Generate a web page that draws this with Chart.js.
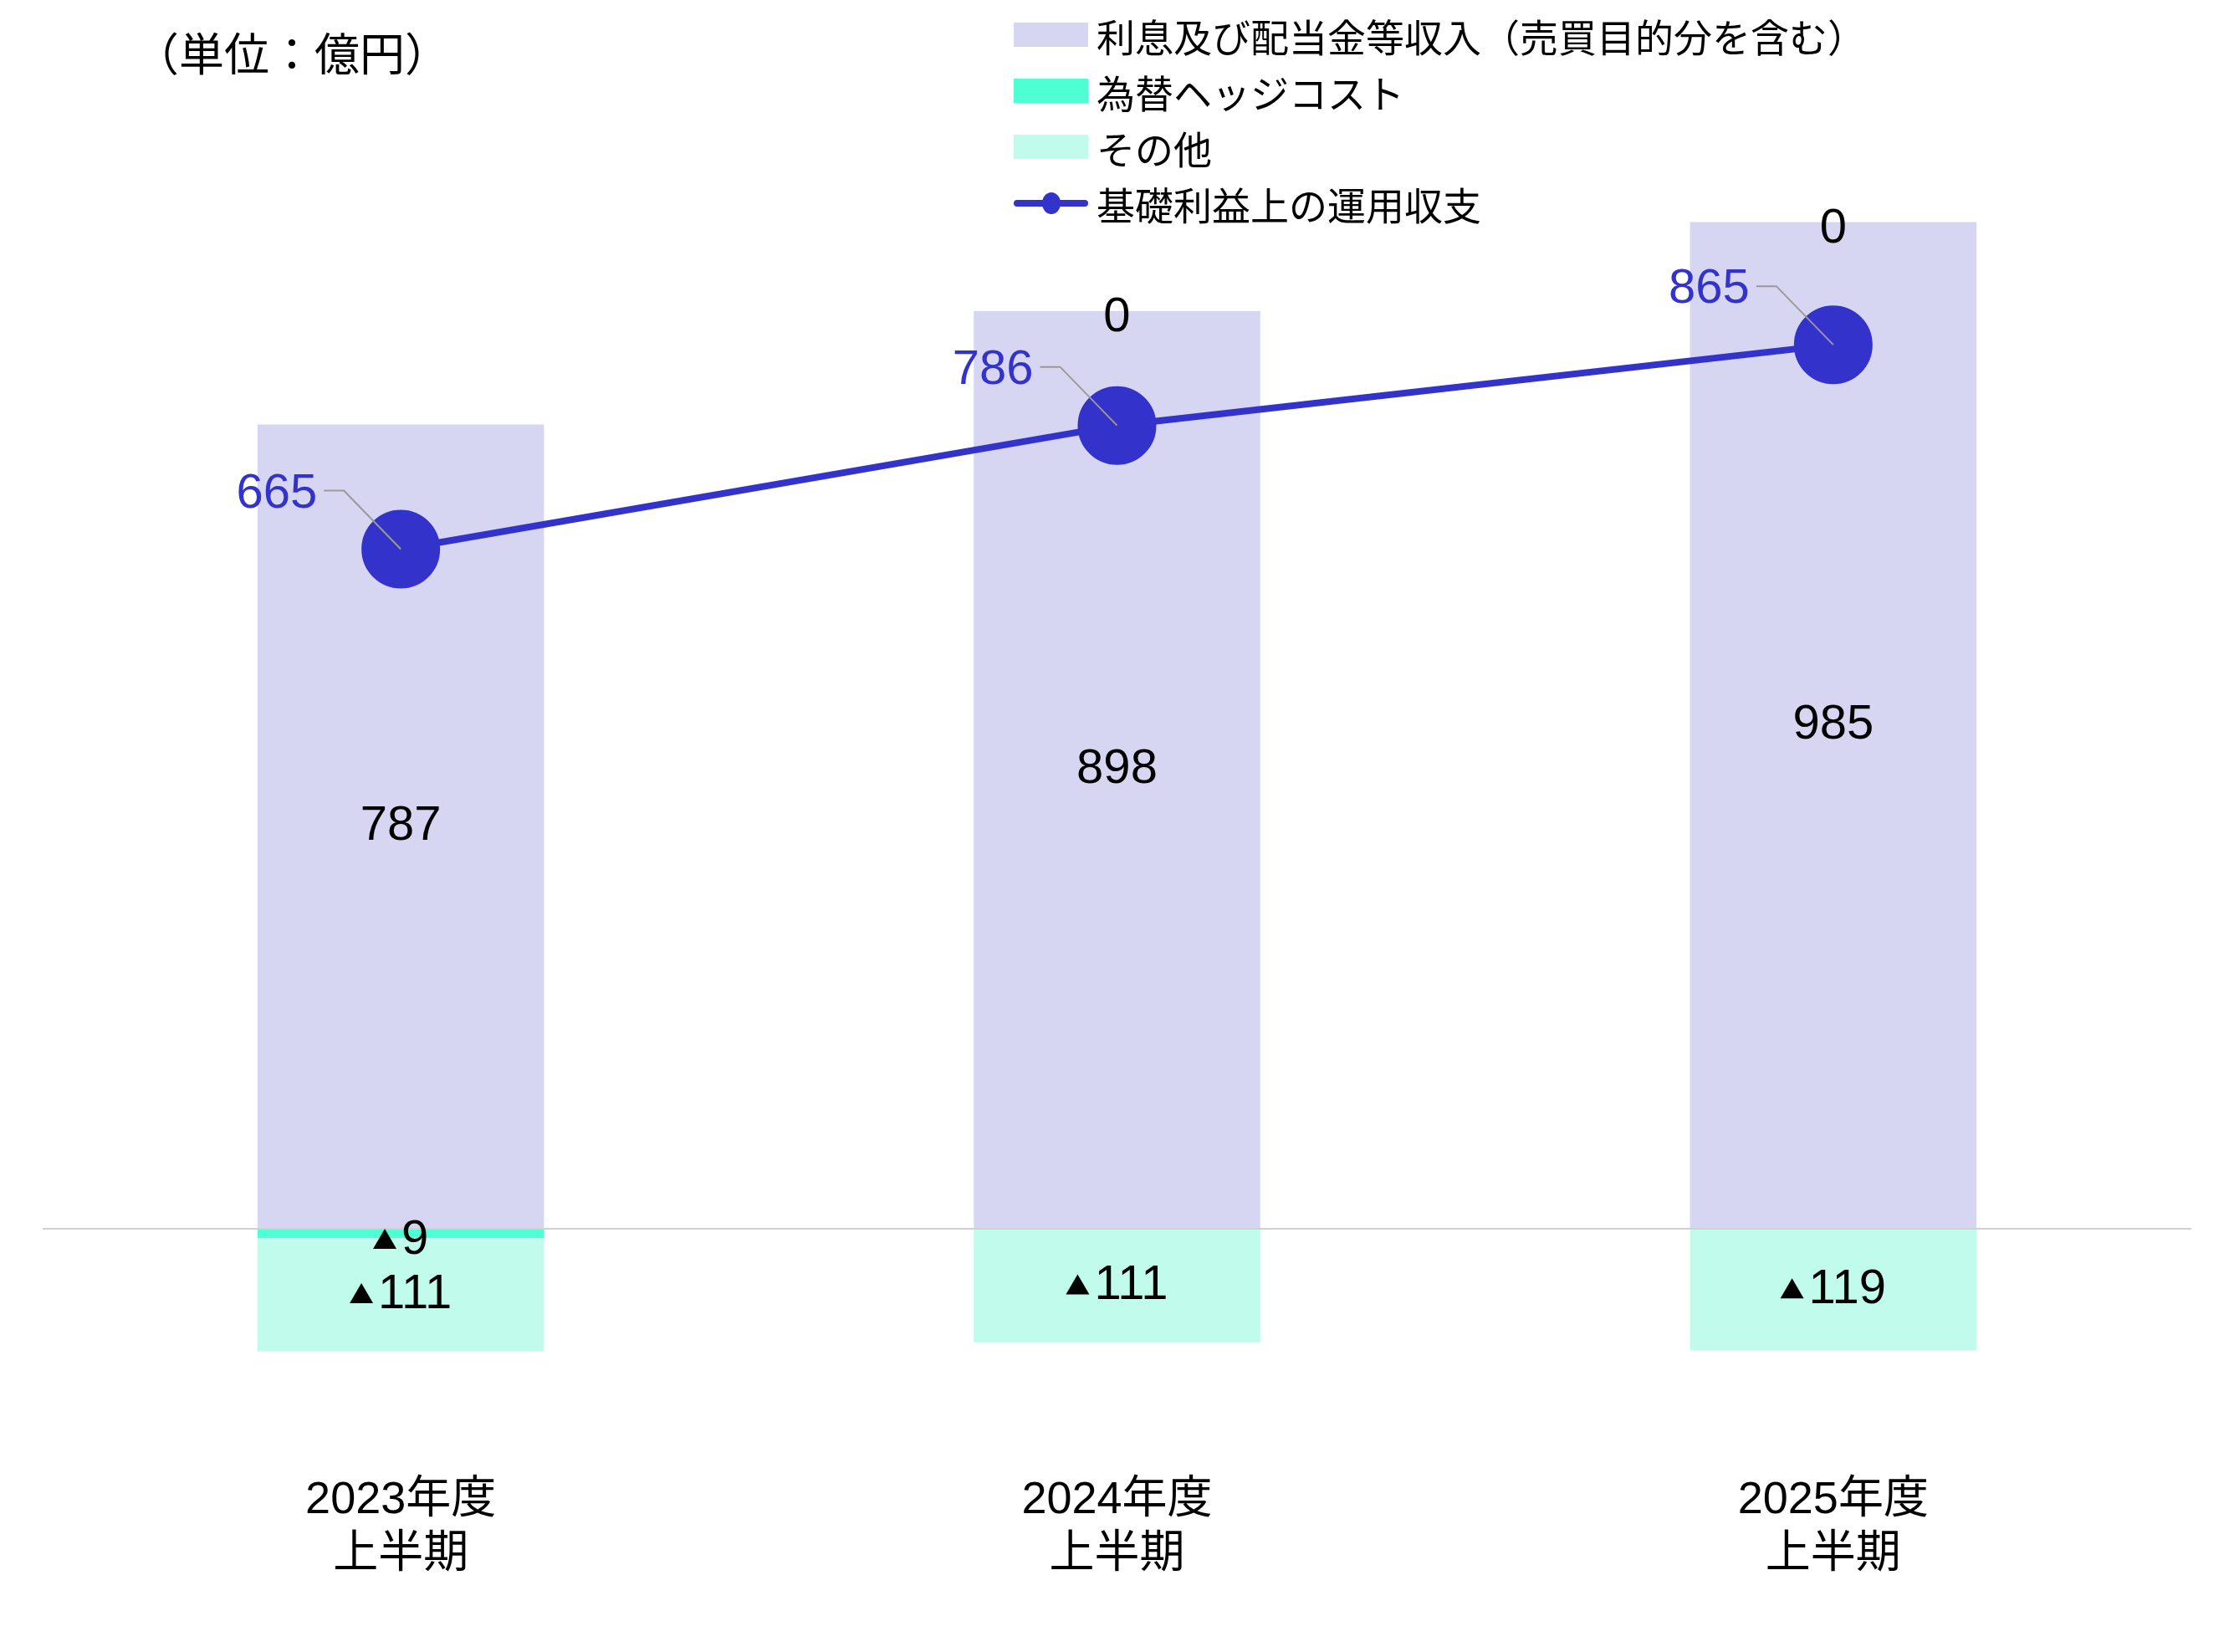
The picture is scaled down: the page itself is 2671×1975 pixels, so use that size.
<!DOCTYPE html>
<html>
<head>
<meta charset="utf-8">
<script src="https://cdn.jsdelivr.net/npm/chart.js@4"></script>
<style>
  body { margin: 0; background: #fff; font-family: "Liberation Sans", "Noto Sans CJK JP", sans-serif; }
  #wrap { position: relative; width: 2671px; height: 1975px; }
  #unit { position: absolute; left: 160px; top: 22px; font-size: 54px; color: #000; }
  #legend { position: absolute; left: 1212px; top: 8px; font-size: 46px; color: #000; }
  .row { display: flex; align-items: center; height: 67px; }
  .sw { width: 89px; height: 29px; margin-right: 10px; }
  .ln { width: 89px; height: 8px; margin-right: 10px; background: #3333CC; position: relative; border-radius: 4px; }
  .ln::after { content: ""; position: absolute; left: 34px; top: -9px; width: 22px; height: 26px; border-radius: 50%; background: #3333CC; }
</style>
</head>
<body>
<div id="wrap">
  <canvas id="c" width="2671" height="1975"></canvas>
  <div id="unit">（単位：億円）</div>
  <div id="legend"></div>
</div>
<script>
const categories = [['2023年度', '上半期'], ['2024年度', '上半期'], ['2025年度', '上半期']]
const interestIncome = [787, 898, 985]
const hedgeCost = [-9, 0, 0]
const others = [-111, -111, -119]
const coreIncome = [665, 786, 865]

const names = ['利息及び配当金等収入（売買目的分を含む）', '為替ヘッジコスト', 'その他', '基礎利益上の運用収支']
const colors = ['#D6D6F2', '#4DFFD2', '#C0FBEB', '#3333CC']

// html legend
const legend = document.getElementById('legend')
names.forEach((n, i) => {
    const row = document.createElement('div')
    row.className = 'row'
    const sw = document.createElement('div')
    if (i === 3) {
        sw.className = 'ln'
    } else {
        sw.className = 'sw'
        sw.style.background = colors[i]
    }
    row.appendChild(sw)
    row.appendChild(document.createTextNode(n))
    legend.appendChild(row)
})

const fmt = v => v < 0 ? '▲' + Math.abs(v) : String(v)

const labelPlugin = {
    id: 'labels',
    afterDatasetsDraw(chart) {
        const ctx = chart.ctx
        ctx.save()
        ctx.textAlign = 'center'
        ctx.textBaseline = 'middle'
        ctx.fillStyle = '#000'
        ctx.font = '58px "Liberation Sans", sans-serif'
        for (let d = 0; d < 3; d++) {
            const meta = chart.getDatasetMeta(d)
            meta.data.forEach((bar, i) => {
                const v = chart.data.datasets[d].data[i]
                let y = (bar.y + bar.base) / 2
                if (d === 1) y += 8
                drawTri(ctx, fmt(v), bar.x, y)
            })
        }
        // line labels
        const lm = chart.getDatasetMeta(3)
        ctx.font = '58px "Liberation Sans", sans-serif'
        ctx.textAlign = 'right'
        lm.data.forEach((pt, i) => {
            ctx.strokeStyle = '#999'
            ctx.lineWidth = 2
            ctx.beginPath()
            ctx.moveTo(pt.x - 92, pt.y - 70)
            ctx.lineTo(pt.x - 68, pt.y - 70)
            ctx.lineTo(pt.x, pt.y)
            ctx.stroke()
            ctx.fillStyle = '#3333CC'
            ctx.fillText(String(coreIncome[i]), pt.x - 100, pt.y - 66)
        })
        ctx.restore()
    }
}

function drawTri(ctx, text, x, y) {
    if (text[0] !== '▲') {
        ctx.fillText(text, x, y)
        return
    }
    const num = text.slice(1)
    ctx.font = '58px "Liberation Sans", sans-serif'
    const w = ctx.measureText(num).width
    const tw = 28
    const total = tw + 6 + w
    const left = x - total / 2
    ctx.beginPath()
    ctx.moveTo(left, y + 10)
    ctx.lineTo(left + tw, y + 10)
    ctx.lineTo(left + tw / 2, y - 14)
    ctx.closePath()
    ctx.fill()
    ctx.textAlign = 'left'
    ctx.fillText(num, left + tw + 6, y)
    ctx.textAlign = 'center'
}

new Chart(document.getElementById('c'), {
    data: {
        labels: categories,
        datasets: [
            { type: 'bar', label: names[0], data: interestIncome, backgroundColor: colors[0], stack: 's', order: 2 },
            { type: 'bar', label: names[1], data: hedgeCost, backgroundColor: colors[1], stack: 's', order: 2 },
            { type: 'bar', label: names[2], data: others, backgroundColor: colors[2], stack: 's', order: 2 },
            {
                type: 'line', label: names[3], data: coreIncome, borderColor: colors[3], backgroundColor: colors[3],
                borderWidth: 8, pointRadius: 43, pointHoverRadius: 43, order: 1
            }
        ]
    },
    options: {
        responsive: false,
        animation: false,
        events: [],
        layout: { padding: { left: 39, right: 26, top: 125, bottom: 0 } },
        plugins: { legend: { display: false }, tooltip: { enabled: false } },
        datasets: { bar: { barPercentage: 0.8, categoryPercentage: 0.5 } },
        scales: {
            x: {
                stacked: true,
                grid: { display: false },
                border: { display: false },
                ticks: { color: '#000', padding: 10, font: { size: 54, family: '"Liberation Sans", "Noto Sans CJK JP", sans-serif' } },
                afterFit(s) { s.height = 231 }
            },
            y: {
                stacked: true,
                display: true,
                min: -225,
                max: 1100,
                ticks: { display: false, stepSize: 25 },
                border: { display: false },
                grid: { color: c => c.tick.value === 0 ? '#d0d0d0' : 'transparent', lineWidth: 2, drawTicks: false },
                afterFit(s) { s.width = 0 }
            }
        }
    },
    plugins: [labelPlugin]
})
</script>
</body>
</html>
